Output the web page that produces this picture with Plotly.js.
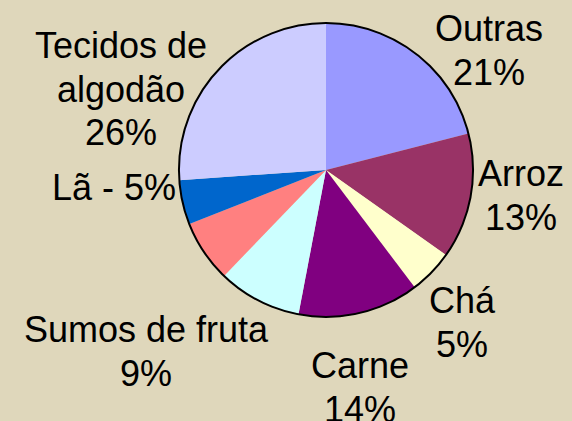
<!DOCTYPE html>
<html>
<head>
<meta charset="utf-8">
<script src="https://cdn.plot.ly/plotly-3.0.1.min.js"></script>
<style>
  html, body { margin: 0; padding: 0; background: #dfd7bb; }
  #chart { width: 572px; height: 421px; }
</style>
</head>
<body>
<div id="chart"></div>
<script>
// -------- DATA --------
const categories = ['Outras', 'Arroz', 'Chá', 'Carne', 'Sumos de fruta', 'Outro', 'Lã', 'Tecidos de algodão'];
const shares = [21, 13.8, 4.9, 13.3, 9.2, 6.8, 4.9, 26.1];
const labelLines = [
  ['Outras', '21%'], ['Arroz', '13%'], ['Chá', '5%'], ['Carne', '14%'],
  ['Sumos de fruta', '9%'], [], ['Lã - 5%'], ['Tecidos de', 'algodão', '26%']
];
const sliceColors = ['#9999ff', '#993366', '#ffffcc', '#800080', '#ccffff', '#ff8080', '#0066cc', '#ccccff'];

// label placement in pixels: centre x, y of first line (from top)
const labelX = [489, 521, 462, 360, 146, 0, 114, 121];
const labelY = [28, 173, 300, 365, 329, 0, 188, 45];
const lineGap = 44;

const W = 572, H = 421;
const cx = 326, cy = 170, r = 147;
const domain = {
  x: [(cx - r) / W, (cx + r) / W],
  y: [(H - cy - r) / H, (H - cy + r) / H]
};

// -------- TRACES --------
const pieTrace = {
  type: 'pie',
  labels: categories,
  values: shares,
  sort: false,
  direction: 'clockwise',
  rotation: 0,
  textinfo: 'none',
  hoverinfo: 'label+percent',
  marker: { colors: sliceColors, line: { width: 0 } },
  domain: domain,
  showlegend: false
};

// outer black ring only (no radial lines between slices)
const ringTrace = {
  type: 'pie',
  labels: ['contorno'],
  values: [1],
  textinfo: 'none',
  hoverinfo: 'skip',
  marker: { colors: ['rgba(0,0,0,0)'], line: { color: '#000', width: 2 } },
  domain: domain,
  showlegend: false
};

// -------- LABELS (one annotation per line) --------
const annotations = [];
labelLines.forEach((lines, i) => {
  lines.forEach((txt, j) => {
    annotations.push({
      xref: 'paper', yref: 'paper',
      x: labelX[i] / W,
      y: 1 - (labelY[i] + j * lineGap) / H,
      xanchor: 'center', yanchor: 'middle',
      text: txt,
      showarrow: false,
      font: { family: 'Liberation Sans, Arial, sans-serif', size: 36, color: '#000' }
    });
  });
});

const layout = {
  width: W, height: H,
  margin: { l: 0, r: 0, t: 0, b: 0 },
  paper_bgcolor: '#dfd7bb',
  plot_bgcolor: '#dfd7bb',
  annotations: annotations
};

Plotly.newPlot('chart', [pieTrace, ringTrace], layout, { displayModeBar: false, staticPlot: true });
</script>
</body>
</html>
